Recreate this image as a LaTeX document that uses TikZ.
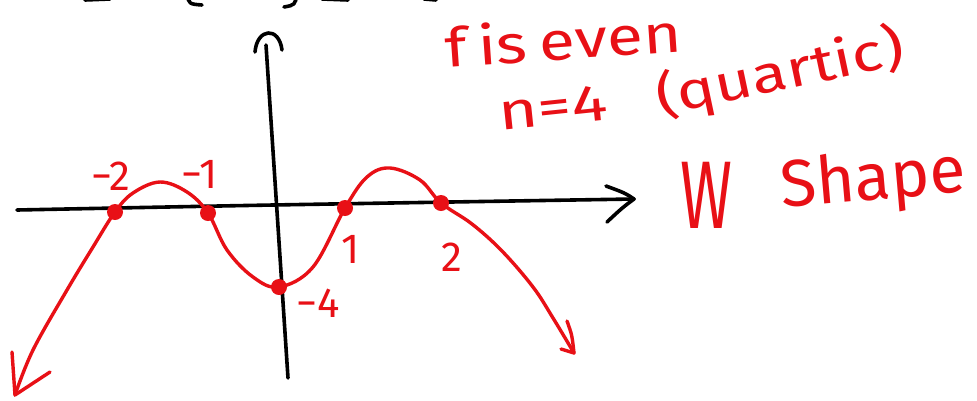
\documentclass[tikz,border=0pt]{standalone}
\usepackage{fontspec}
\setmainfont{Fira Sans}
\definecolor{ink}{RGB}{232,16,22}
\begin{document}
\begin{tikzpicture}[x=1pt,y=-1pt, line cap=round, line join=round,
  axis/.style={black, line width=3.6pt},
  curve/.style={ink, line width=3.4pt},
  dot/.style={circle, fill=ink, inner sep=0pt, minimum size=16pt},
  lab/.style={text=ink, font=\fontsize{42}{44}\selectfont, inner sep=0pt},
  note/.style={text=ink, inner sep=0pt}]
\useasboundingbox (0,0) rectangle (977,400);
\fill[white] (0,0) rectangle (977,400);

% cut-off strokes at the top edge
\draw[axis] (85,0) -- (110,-1);
\draw[axis] (187,-6) .. controls (189,4) .. (202,5);
\draw[axis] (297,-6) .. controls (295,5) .. (284,7);
\draw[axis] (322,-1) -- (348,0);
\draw[axis] (424,-1) -- (436,0);

% axes
\coordinate (xl) at (17,210);
\coordinate (xm) at (273,205);
\coordinate (xr) at (634,199);
\draw[axis] plot[smooth] coordinates {(xl) (xm) (xr)};
\draw[axis] (606,186) .. controls (625,193) .. (xr) .. controls (622,208) .. (607,222);
\coordinate (yt) at (266,45);
\coordinate (yb) at (288,378);
\draw[axis] (yt) -- (yb);
\draw[axis] (255,52) .. controls (257,28) and (279,26) .. (282,50);

% points
\coordinate (r2) at (115,212);
\coordinate (r1) at (208,213);
\coordinate (q1) at (345,208);
\coordinate (q2) at (441,203);
\coordinate (yi) at (279,287);
\coordinate (tl) at (15,395);
\coordinate (tr) at (574,353);

% curve
\draw[curve] plot[smooth, tension=0.6] coordinates {(tl) (33,350) (67,290) (93,247) (r2) (133,193) (160,182) (187,192) (r1) (227,250) (253,277) (yi) (313,267) (q1) (367,177) (390,168) (420,180) (q2) (472,224) (502,251) (533,287) (553,318) (tr)};
\draw[curve] (12,352) -- (tl) -- (50,372);
\draw[curve] (567,321) .. controls (572,335) .. (tr) -- (561,349);

\node[dot] (dr2) at (r2) {};
\node[dot] (dr1) at (r1) {};
\node[dot] (dq1) at (q1) {};
\node[dot] (dq2) at (q2) {};
\node[dot] (dyi) at (yi) {};

% labels
\node[lab] (lm2) at (111,176) {−2};
\node[lab] (lm1) at (200,174) {−1};
\node[lab] (l1) at (351,249) {1};
\node[lab] (l2) at (452,257) {2};
\node[lab] (lm4) at (318,303) {−4};

% notes
\node[note, font=\fontsize{54}{56}\selectfont, anchor=base west, rotate=4, xscale=1.22] (feven) at (446,68) {f\hspace{9pt}is\hspace{10pt}even};
\node[note, font=\fontsize{52}{54}\selectfont, anchor=base west, rotate=6, xscale=1.3] (n4) at (500,131) {n=4};
\node[note, font=\fontsize{52}{54}\selectfont, anchor=base west, rotate=12, xscale=1.25] (quart) at (660,116) {(quartic)};
\node[note, font=\fontsize{74}{76}\selectfont, xscale=0.85, yscale=1.3] (wl) at (706,195) {W};
\node[note, font=\fontsize{66}{68}\selectfont, anchor=base west, rotate=5] (shape) at (782,208) {Shape};
\end{tikzpicture}
\end{document}
